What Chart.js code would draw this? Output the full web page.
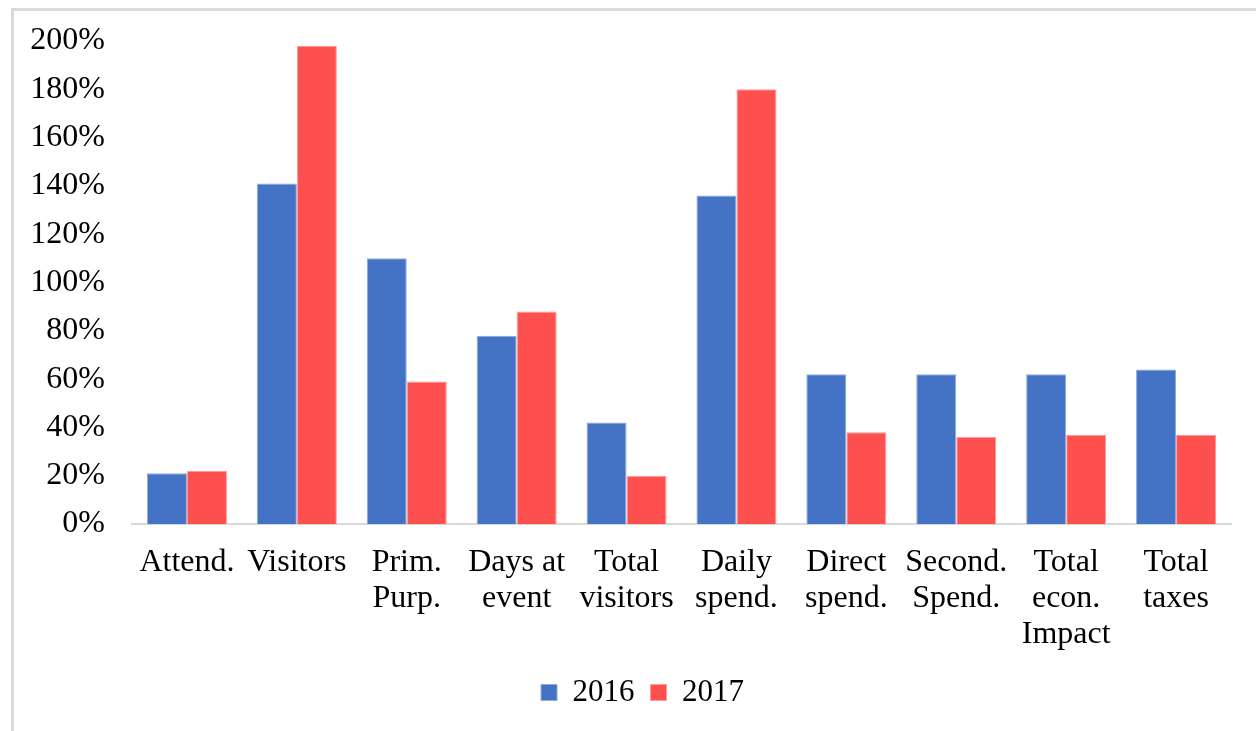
<!DOCTYPE html>
<html>
<head>
<meta charset="utf-8">
<script src="https://cdn.jsdelivr.net/npm/chart.js@4/dist/chart.umd.min.js"></script>
<style>
  html, body { margin: 0; padding: 0; background: #fff; overflow: hidden; }
  #frame { position: absolute; left: 11px; top: 8px; width: 1300px; height: 800px;
           border-top: 3px solid #dadada; border-left: 3px solid #dadada; box-sizing: border-box; }
  #c { position: absolute; left: 0; top: 0; }
</style>
</head>
<body>
<div id="frame"></div>
<canvas id="c" width="1256" height="731"></canvas>
<script>
const categories = [
  ["Attend."], ["Visitors"], ["Prim.", "Purp."], ["Days at", "event"], ["Total", "visitors"],
  ["Daily", "spend."], ["Direct", "spend."], ["Second.", "Spend."], ["Total", "econ.", "Impact"], ["Total", "taxes"]
];
const seriesNames = ["2016", "2017"];
const values2016 = [21, 141, 110, 78, 42, 136, 62, 62, 62, 64];
const values2017 = [22, 198, 59, 88, 20, 180, 38, 36, 37, 37];
const yTicks = { min: 0, max: 200, step: 20 };

const FONT = "'Liberation Serif', 'Times New Roman', serif";

const legendShift = {
  id: 'legendShift',
  afterLayout(chart) {
    if (chart.legend) { chart.legend.left += 17; chart.legend.right += 17; }
  }
};

new Chart(document.getElementById('c'), {
  type: 'bar',
  data: {
    labels: categories,
    datasets: [
      { label: seriesNames[0], data: values2016, backgroundColor: '#4472C4', borderColor: '#8eaadf', borderWidth: 1 },
      { label: seriesNames[1], data: values2017, backgroundColor: '#FF5050', borderColor: '#ff9c9c', borderWidth: 1 }
    ]
  },
  plugins: [legendShift],
  options: {
    responsive: false,
    animation: false,
    devicePixelRatio: 1,
    categoryPercentage: 0.728,
    barPercentage: 1.0,
    layout: { padding: { left: 20, right: 25, top: 41, bottom: 13 } },
    plugins: {
      tooltip: { enabled: false },
      legend: {
        position: 'bottom',
        labels: {
          boxWidth: 16, boxHeight: 16, padding: 16,
          color: '#000',
          font: { family: FONT, size: 31 }
        }
      }
    },
    scales: {
      x: {
        grid: { display: false },
        border: { display: true, color: '#d9d9d9', width: 2 },
        ticks: {
          color: '#000', padding: 13, maxRotation: 0, autoSkip: false,
          font: { family: FONT, size: 32, lineHeight: 1.125 }
        },
        afterFit: (s) => { s.height = 137; }
      },
      y: {
        min: yTicks.min, max: yTicks.max,
        grid: { display: false, tickLength: 27 },
        border: { display: false },
        ticks: {
          stepSize: yTicks.step, color: '#000', padding: 0,
          font: { family: FONT, size: 32 },
          callback: (v) => v + '%'
        },
        afterFit: (s) => { s.width = 112; }
      }
    }
  }
});
</script>
</body>
</html>
